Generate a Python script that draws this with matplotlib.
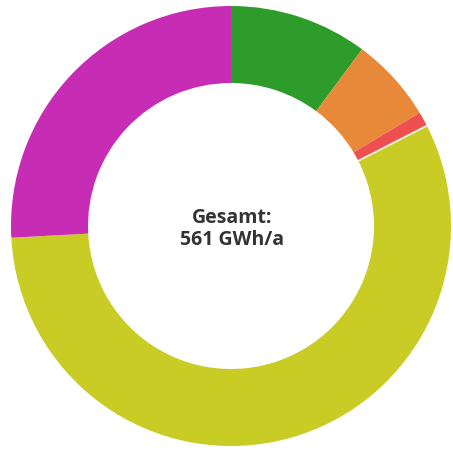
import numpy as np
import matplotlib.pyplot as plt

# Energieverbrauch nach Sektor (GWh/a), im Uhrzeigersinn ab 12 Uhr
labels = ['Gruen', 'Orange', 'Rot', 'Gelb', 'Magenta']
values = [57, 35, 6, 318, 145]
colors = ['#2e9c2b', '#e8893a', '#f04f52', '#c8cc24', '#c72cb4']
total = sum(values)

cx, cy, r_out, ring = 231, 227, 220, 77

fig = plt.figure(figsize=(4.53, 4.53), dpi=100)
ax = fig.add_axes([0, 0, 1, 1])

ax.pie(values, colors=colors, startangle=90, counterclock=False,
       radius=r_out, center=(cx, cy),
       wedgeprops=dict(width=ring, linewidth=0))

# helle Fuge zwischen rotem und gelbem Segment
ang = np.deg2rad(90 - 360 * sum(values[:3]) / total)
rr = np.array([r_out - ring, r_out])
ax.plot(cx + rr * np.cos(ang), cy + rr * np.sin(ang), color='#fbf8e0', lw=1.3,
        solid_capstyle='butt')

ax.text(232, 235, 'Gesamt:', ha='center', va='center', fontsize=14,
        fontweight='bold', color='#333333', family='Open Sans')
ax.text(232, 213, f'{total} GWh/a', ha='center', va='center', fontsize=14,
        fontweight='bold', color='#333333', family='Open Sans')

ax.set_xlim(0, 453)
ax.set_ylim(0, 453)
ax.set_aspect('equal')
ax.axis('off')

fig.savefig('out.png', dpi=100)
